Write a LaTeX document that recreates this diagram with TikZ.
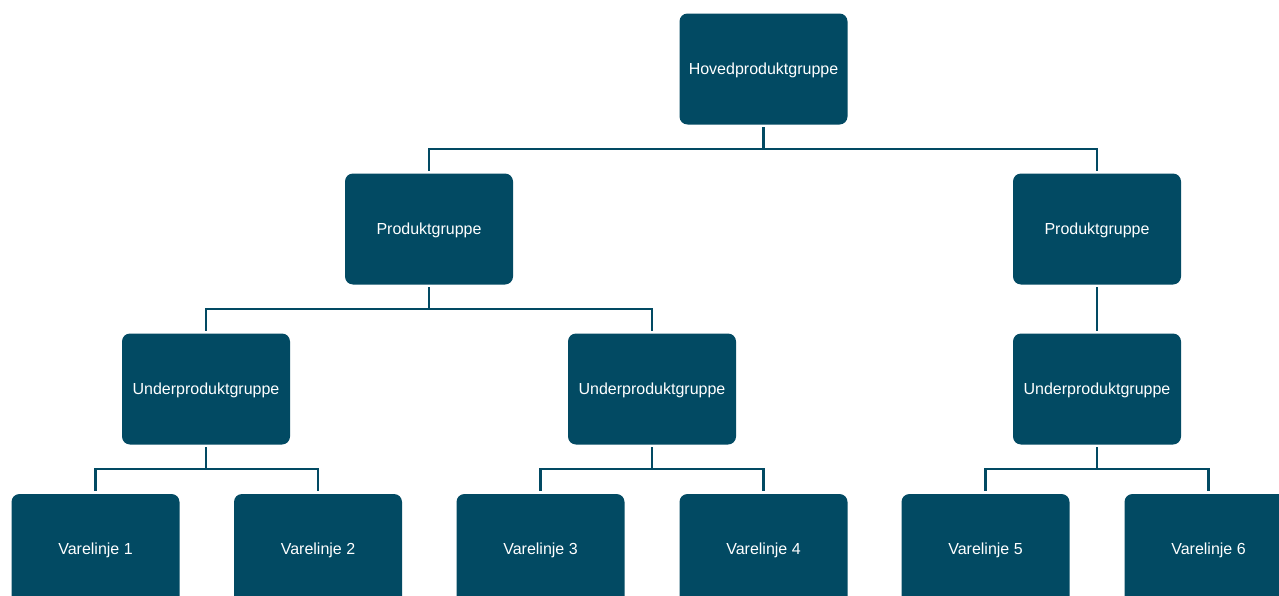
\documentclass[tikz,border=0pt]{standalone}
\usepackage{fontspec}
\setmainfont{Liberation Sans}
\usepackage{xcolor}
\definecolor{petrol}{RGB}{2, 74, 99}
\usepackage{tikz}
\usetikzlibrary{calc,positioning}
\tikzstyle{edge}  =[shorten <=2pt, shorten >=2pt,
                    line width=1.9pt, draw=petrol]
\tikzstyle{gruppe}=[rectangle, rounded corners=6pt, fill=petrol,
                    text=white, minimum width=126pt,
                    minimum height=83.25pt, inner sep=0pt,
                    text height=10pt, text depth=2pt,
                    font=\fontsize{12}{14}\selectfont]

\begin{document}
\begin{tikzpicture}[x=0.75pt,y=-0.75pt]

        \useasboundingbox (0,0) rectangle (1279,596);
        \clip (0,0) rectangle (1279,596);

        \draw (763.5,69) node(top)[gruppe]{Hovedproduktgruppe};

        \foreach \i/\x in {1/429,2/1097}
            \draw (\x,229) node(p\i)[gruppe]{Produktgruppe};

        \foreach \i/\x in {1/206,2/652,3/1097}
            \draw (\x,389) node(u\i)[gruppe]{Underproduktgruppe};

        \foreach \i/\x in {1/95.5,2/318,3/540.5,4/763.5,5/985.5,6/1208.5}
            \draw (\x,549.5) node(v\i)[gruppe]{Varelinje \i};

        \foreach \i/\j in {top/p1,top/p2,p1/u1,p1/u2,p2/u3,
            u1/v1,u1/v2,u2/v3,u2/v4,u3/v5,u3/v6}
            \draw [edge] (\i.south) -- ++(0,24) -| (\j.north);

\end{tikzpicture}
\end{document}
